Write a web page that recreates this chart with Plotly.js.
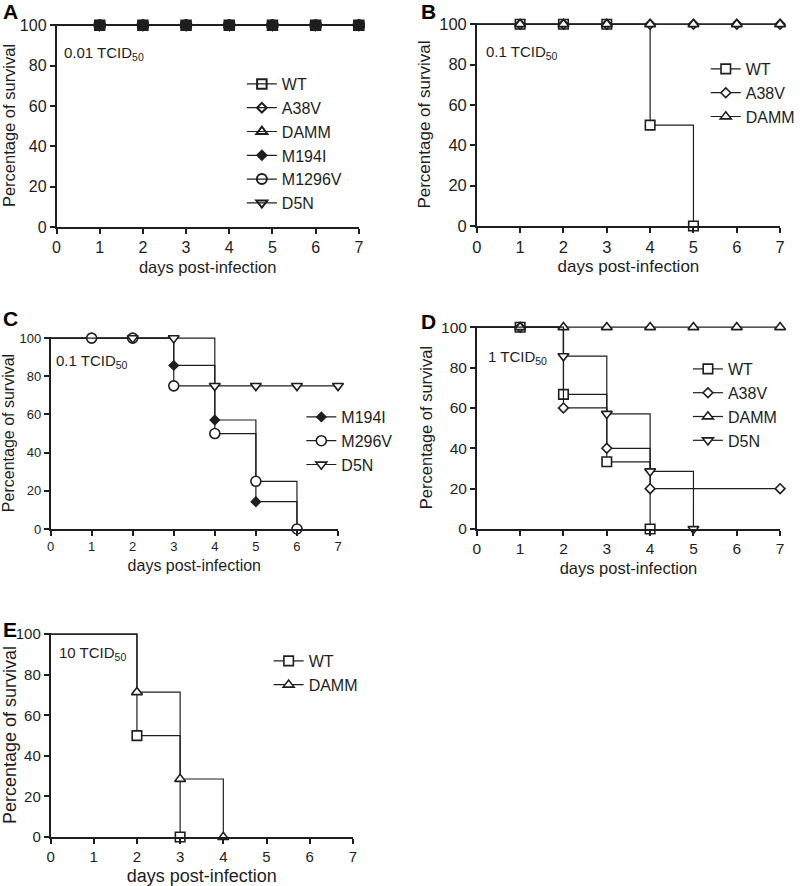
<!DOCTYPE html>
<html>
<head>
<meta charset="utf-8">
<script src="https://cdn.plot.ly/plotly-3.0.1.min.js"></script>
<style>html,body{margin:0;padding:0;background:#fff;}#chart{width:800px;height:886px;}</style>
</head>
<body>
<div id="chart"></div>
<script>
// ---------- data (days post-infection / percentage of survival) ----------
const dayTicks = [0, 1, 2, 3, 4, 5, 6, 7];
const survTicks = [0, 20, 40, 60, 80, 100];

// Panel A : 0.01 TCID50
const aWTDays = [1, 2, 3, 4, 5, 6, 7];       const aWT = [100, 100, 100, 100, 100, 100, 100];
const aA38VDays = [1, 2, 3, 4, 5, 6, 7];     const aA38V = [100, 100, 100, 100, 100, 100, 100];
const aDAMMDays = [1, 2, 3, 4, 5, 6, 7];     const aDAMM = [100, 100, 100, 100, 100, 100, 100];
const aM194IDays = [1, 2, 3, 4, 5, 6, 7];    const aM194I = [100, 100, 100, 100, 100, 100, 100];
const aM1296VDays = [1, 2, 3, 4, 5, 6, 7];   const aM1296V = [100, 100, 100, 100, 100, 100, 100];
const aD5NDays = [1, 2, 3, 4, 5, 6, 7];      const aD5N = [100, 100, 100, 100, 100, 100, 100];

// Panel B : 0.1 TCID50
const bWTDays = [1, 2, 3, 4, 5];             const bWT = [100, 100, 100, 50, 0];
const bA38VDays = [1, 2, 3, 4, 5, 6, 7];     const bA38V = [100, 100, 100, 100, 100, 100, 100];
const bDAMMDays = [1, 2, 3, 4, 5, 6, 7];     const bDAMM = [100, 100, 100, 100, 100, 100, 100];

// Panel C : 0.1 TCID50
const cM194IDays = [3, 4, 5, 6];             const cM194I = [85.7, 57.1, 14.3, 0];
const cM296VDays = [1, 2, 3, 4, 5, 6];       const cM296V = [100, 100, 75, 50, 25, 0];
const cD5NDays = [2, 3, 4, 5, 6, 7];         const cD5N = [100, 100, 75, 75, 75, 75];

// Panel D : 1 TCID50
const dWTDays = [1, 2, 3, 4];                const dWT = [100, 66.7, 33.3, 0];
const dA38VDays = [1, 2, 3, 4, 7];           const dA38V = [100, 60, 40, 20, 20];
const dDAMMDays = [1, 2, 3, 4, 5, 6, 7];     const dDAMM = [100, 100, 100, 100, 100, 100, 100];
const dD5NDays = [2, 3, 4, 5];               const dD5N = [85.7, 57.1, 28.6, 0];

// Panel E : 10 TCID50
const eWTDays = [2, 3];                      const eWT = [50, 0];
const eDAMMDays = [2, 3, 4];                 const eDAMM = [71.4, 28.6, 0];

// ---------- styling ----------
const INK = '#1e1e1e';
const FONT = 'Arial, "Liberation Sans", sans-serif';
const W = 800, H = 886;
const px = v => v / W;
const py = v => 1 - v / H;

const SYM = {
  WT:     {symbol: 'square',        size: 9.5, fill: '#fff'},
  A38V:   {symbol: 'diamond',       size: 7.5, fill: '#fff'},
  DAMM:   {symbol: 'triangle-up',   size: 9.5, fill: '#fff'},
  M194I:  {symbol: 'diamond',       size: 7,   fill: INK},
  M296V:  {symbol: 'circle',        size: 10,  fill: '#fff'},
  D5N:    {symbol: 'triangle-down', size: 9.5, fill: '#fff'}
};

// Kaplan–Meier step curve: starts at 100 % on day 0, markers only at observed days
function km(name, key, days, surv, ax, legend, fillOverride, lw) {
  const s = SYM[key];
  const xs = [0].concat(days);
  const ys = [100].concat(surv);
  return {
    type: 'scatter', mode: 'lines+markers', name: name,
    x: xs, y: ys,
    xaxis: 'x' + ax, yaxis: 'y' + ax,
    legend: legend,
    line: {shape: 'hv', color: INK, width: 1.2},
    marker: {symbol: s.symbol, size: s.size,
             color: fillOverride !== undefined ? fillOverride : s.fill,
             line: {color: INK, width: lw || 1.6}},
    selectedpoints: days.map((d, i) => i + 1),
    selected: {marker: {opacity: 1}},
    unselected: {marker: {opacity: 0}},
    cliponaxis: false,
    hoverinfo: 'x+y+name'
  };
}

const CLEAR = 'rgba(255,255,255,0)';
const traces = [
  km('WT', 'WT', aWTDays, aWT, '', 'legend', CLEAR, 2),
  km('A38V', 'A38V', aA38VDays, aA38V, '', 'legend', CLEAR, 2),
  km('DAMM', 'DAMM', aDAMMDays, aDAMM, '', 'legend', CLEAR, 2),
  km('M194I', 'M194I', aM194IDays, aM194I, '', 'legend', undefined, 2),
  km('M1296V', 'M296V', aM1296VDays, aM1296V, '', 'legend', CLEAR, 2),
  km('D5N', 'D5N', aD5NDays, aD5N, '', 'legend', CLEAR, 2),

  km('WT', 'WT', bWTDays, bWT, '2', 'legend2'),
  km('A38V', 'A38V', bA38VDays, bA38V, '2', 'legend2'),
  km('DAMM', 'DAMM', bDAMMDays, bDAMM, '2', 'legend2'),

  km('M194I', 'M194I', cM194IDays, cM194I, '3', 'legend3'),
  km('M296V', 'M296V', cM296VDays, cM296V, '3', 'legend3'),
  km('D5N', 'D5N', cD5NDays, cD5N, '3', 'legend3'),

  km('WT', 'WT', dWTDays, dWT, '4', 'legend4'),
  km('A38V', 'A38V', dA38VDays, dA38V, '4', 'legend4'),
  km('DAMM', 'DAMM', dDAMMDays, dDAMM, '4', 'legend4'),
  km('D5N', 'D5N', dD5NDays, dD5N, '4', 'legend4'),

  km('WT', 'WT', eWTDays, eWT, '5', 'legend5'),
  km('DAMM', 'DAMM', eDAMMDays, eDAMM, '5', 'legend5')
];

// panel boxes in pixels: [left, right, top, bottom], font sizes
const panels = [
  {box: [57, 362, 24, 227],  tick: 16,   title: 16.5},
  {box: [481, 787, 23, 226], tick: 16.5, title: 17},
  {box: [51, 341, 337, 529], tick: 13,   title: 16},
  {box: [481, 787, 326, 529],tick: 15.5, title: 16.5},
  {box: [51, 356, 633, 837], tick: 15,   title: 18}
];

function xAxis(p, yName) {
  return {
    domain: [px(p.box[0]), px(p.box[1])], anchor: yName,
    range: [0, 7], tickvals: dayTicks, ticktext: dayTicks.map(String),
    ticks: 'outside', ticklen: 5, tickwidth: 1.5, tickcolor: INK,
    showline: true, linewidth: 1.5, linecolor: INK,
    showgrid: false, zeroline: false, automargin: false,
    tickfont: {size: p.tick, color: INK},
    title: {text: 'days post-infection', font: {size: p.title, color: INK}, standoff: 6},
    fixedrange: true
  };
}
function yAxis(p, xName) {
  return {
    domain: [py(p.box[3]), py(p.box[2])], anchor: xName,
    range: [0, 100.6], tickvals: survTicks, ticktext: survTicks.map(String),
    ticks: 'outside', ticklen: 5, tickwidth: 1.5, tickcolor: INK,
    showline: true, linewidth: 1.5, linecolor: INK,
    showgrid: false, zeroline: false, automargin: false,
    tickfont: {size: p.tick, color: INK},
    title: {text: 'Percentage of survival', font: {size: p.title, color: INK}, standoff: 4},
    fixedrange: true
  };
}

const legendBase = {
  xanchor: 'left', yanchor: 'top', bgcolor: 'rgba(0,0,0,0)', borderwidth: 0,
  font: {size: 16, color: INK, family: FONT}, traceorder: 'normal',
  itemclick: false, itemdoubleclick: false
};

const dose = [
  {t: '0.01 TCID<sub>50</sub>', x: 63, y: 53},
  {t: '0.1 TCID<sub>50</sub>', x: 488, y: 52},
  {t: '0.1 TCID<sub>50</sub>', x: 54, y: 362},
  {t: '1 TCID<sub>50</sub>', x: 490, y: 357},
  {t: '10 TCID<sub>50</sub>', x: 58, y: 653}
];
const letters = [
  {t: 'A', x: 1, y: 11}, {t: 'B', x: 423, y: 11}, {t: 'C', x: 1, y: 318},
  {t: 'D', x: 423, y: 321}, {t: 'E', x: 1, y: 629}
];

const annotations = [];
dose.forEach(d => annotations.push({
  text: d.t, xref: 'paper', yref: 'paper', x: px(d.x), y: py(d.y),
  xanchor: 'left', yanchor: 'middle', showarrow: false,
  font: {size: 15, color: INK, family: FONT}
}));
letters.forEach(l => annotations.push({
  text: '<b>' + l.t + '</b>', xref: 'paper', yref: 'paper', x: px(l.x), y: py(l.y),
  xanchor: 'left', yanchor: 'middle', showarrow: false,
  font: {size: 21, color: '#000', family: FONT}
}));

const layout = {
  width: W, height: H,
  margin: {l: 0, r: 0, t: 0, b: 0},
  paper_bgcolor: '#fff', plot_bgcolor: 'rgba(0,0,0,0)',
  font: {family: FONT, color: INK},
  showlegend: true,
  xaxis: xAxis(panels[0], 'y'),   yaxis: yAxis(panels[0], 'x'),
  xaxis2: xAxis(panels[1], 'y2'), yaxis2: yAxis(panels[1], 'x2'),
  xaxis3: xAxis(panels[2], 'y3'), yaxis3: yAxis(panels[2], 'x3'),
  xaxis4: xAxis(panels[3], 'y4'), yaxis4: yAxis(panels[3], 'x4'),
  xaxis5: xAxis(panels[4], 'y5'), yaxis5: yAxis(panels[4], 'x5'),
  legend:  Object.assign({}, legendBase, {x: px(244), y: py(67)}),
  legend2: Object.assign({}, legendBase, {x: px(712), y: py(52)}),
  legend3: Object.assign({}, legendBase, {x: px(304), y: py(400)}),
  legend4: Object.assign({}, legendBase, {x: px(694), y: py(352)}),
  legend5: Object.assign({}, legendBase, {x: px(271), y: py(644)}),
  annotations: annotations
};

Plotly.newPlot('chart', traces, layout, {displayModeBar: false});
</script>
</body>
</html>
